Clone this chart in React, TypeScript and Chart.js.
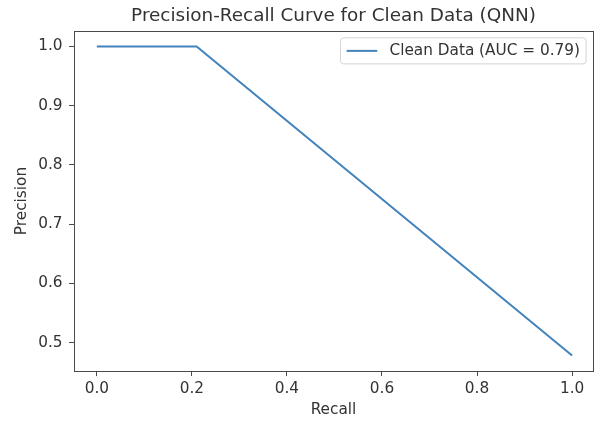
import React, { useEffect, useRef } from "react";
import { Chart, registerables } from "chart.js";

Chart.register(...registerables);

const chartTitle = "Precision-Recall Curve for Clean Data (QNN)";
const seriesLabel = "Clean Data (AUC = 0.79)";
const recall = [0, 0.21, 1.0];
const precision = [1.0, 1.0, 0.478];
const xTicks = [0.0, 0.2, 0.4, 0.6, 0.8, 1.0];
const yTicks = [0.5, 0.6, 0.7, 0.8, 0.9, 1.0];
const xTitle = "Recall";
const yTitle = "Precision";

const FONT = "'DejaVu Sans', sans-serif";
const TEXT = "#333333";
const SPINE = "#4a4a4a";
const LINE = "#4283bb";
const FS = 15.3;

const overlayPlugin = {
  id: "mplOverlay",
  afterDraw(chart: any) {
    const { ctx, chartArea } = chart;
    const { left, right, top, bottom } = chartArea;
    ctx.save();
    // frame
    ctx.strokeStyle = SPINE;
    ctx.lineWidth = 1;
    ctx.strokeRect(Math.round(left) + 0.5, Math.round(top) + 0.5, Math.round(right - left), Math.round(bottom - top));
    // title
    ctx.fillStyle = TEXT;
    ctx.font = `18.4px ${FONT}`;
    ctx.textAlign = "center";
    ctx.textBaseline = "middle";
    ctx.fillText(chartTitle, (left + right) / 2, 16);
    // legend
    const fs = FS;
    ctx.font = `${fs}px ${FONT}`;
    const tw = ctx.measureText(seriesLabel).width;
    const pad = 0.4 * fs;
    const handle = 2 * fs;
    const gap = 0.8 * fs;
    const h = 26;
    const w = pad + handle + gap + tw + pad;
    const bx = right - 0.45 * fs - w;
    const by = top + 0.45 * fs;
    const r = 3;
    ctx.beginPath();
    ctx.moveTo(bx + r, by);
    ctx.lineTo(bx + w - r, by);
    ctx.quadraticCurveTo(bx + w, by, bx + w, by + r);
    ctx.lineTo(bx + w, by + h - r);
    ctx.quadraticCurveTo(bx + w, by + h, bx + w - r, by + h);
    ctx.lineTo(bx + r, by + h);
    ctx.quadraticCurveTo(bx, by + h, bx, by + h - r);
    ctx.lineTo(bx, by + r);
    ctx.quadraticCurveTo(bx, by, bx + r, by);
    ctx.closePath();
    ctx.fillStyle = "rgba(255,255,255,0.8)";
    ctx.fill();
    ctx.strokeStyle = "#d4d4d4";
    ctx.lineWidth = 1;
    ctx.stroke();
    const cy = by + h / 2;
    ctx.strokeStyle = LINE;
    ctx.lineWidth = 2;
    ctx.beginPath();
    ctx.moveTo(bx + pad, cy);
    ctx.lineTo(bx + pad + handle, cy);
    ctx.stroke();
    ctx.fillStyle = TEXT;
    ctx.textAlign = "left";
    ctx.textBaseline = "middle";
    ctx.fillText(seriesLabel, bx + pad + handle + gap, cy + 0.5);
    ctx.restore();
  },
};

export default function App() {
  const ref = useRef<HTMLCanvasElement>(null);
  useEffect(() => {
    if (!ref.current) return;
    Chart.defaults.font.family = FONT;
    Chart.defaults.color = TEXT;
    const ymin = 0.452;
    const ymax = 1.026;
    const chart = new Chart(ref.current, {
      type: "line",
      data: {
        datasets: [
          {
            label: seriesLabel,
            data: recall.map((x, i) => ({ x, y: precision[i] })),
            borderColor: LINE,
            borderWidth: 2,
            pointRadius: 0,
            tension: 0,
            fill: false,
          },
        ],
      },
      options: {
        responsive: false,
        animation: false,
        devicePixelRatio: 1,
        layout: { padding: { top: 31, right: 7, left: 0, bottom: 0 } },
        plugins: {
          legend: { display: false },
          tooltip: { enabled: false },
          title: { display: false },
        },
        scales: {
          x: {
            type: "linear",
            min: -0.048,
            max: 1.044,
            afterBuildTicks: (s: any) => {
              s.ticks = xTicks.map((v) => ({ value: v }));
            },
            afterFit: (s: any) => {
              s.height = 53;
            },
            border: { display: false },
            grid: { drawOnChartArea: false, drawTicks: true, tickLength: 5, tickColor: SPINE, tickWidth: 1 },
            ticks: {
              font: { size: FS, family: FONT },
              color: TEXT,
              padding: 3.7,
              maxRotation: 0,
              autoSkip: false,
              callback: (v: any) => Number(v).toFixed(1),
            },
            title: {
              display: true,
              text: xTitle,
              font: { size: FS, family: FONT },
              color: TEXT,
              padding: { top: 0, bottom: 4.8 },
            },
          },
          y: {
            type: "linear",
            min: ymin,
            max: ymax,
            afterBuildTicks: (s: any) => {
              s.ticks = yTicks.map((v) => ({ value: v }));
            },
            afterFit: (s: any) => {
              s.width = 74;
            },
            border: { display: false },
            grid: { drawOnChartArea: false, drawTicks: true, tickLength: 5, tickColor: SPINE, tickWidth: 1 },
            ticks: {
              font: { size: FS, family: FONT },
              color: TEXT,
              padding: 6.5,
              autoSkip: false,
              callback: (v: any) => Number(v).toFixed(1),
            },
            title: {
              display: true,
              text: yTitle,
              font: { size: FS, family: FONT },
              color: TEXT,
              padding: { top: 12.8, bottom: 0 },
            },
          },
        },
      },
      plugins: [overlayPlugin],
    } as any);
    return () => chart.destroy();
  }, []);
  return (
    <div style={{ position: "absolute", left: 0, top: 0, width: 600, height: 424, background: "#fff" }}>
      <canvas ref={ref} width={600} height={424} />
    </div>
  );
}
